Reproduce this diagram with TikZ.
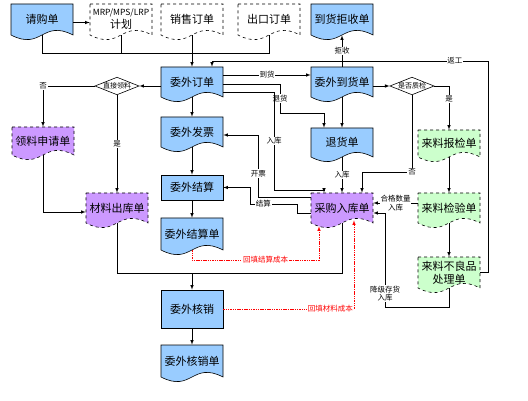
\documentclass[tikz,border=0pt]{standalone}
\usepackage{fontspec}
\setmainfont{Noto Sans CJK SC}
\usetikzlibrary{shapes.geometric,calc}
\definecolor{docblue}{RGB}{153,204,255}
\definecolor{docpurple}{RGB}{204,153,255}
\definecolor{docgreen}{RGB}{204,255,204}
\tikzset{
    box/.style={inner sep=0pt, minimum width=62pt, align=center, font=\fontsize{11}{13}\selectfont},
    bluedoc/.style={draw, fill=docblue},
    purpledoc/.style={draw, dashed, fill=docpurple},
    greendoc/.style={draw, dashed, fill=docgreen},
    plaindoc/.style={draw, dashed, fill=white},
    rectbox/.style={box, draw, fill=docblue},
    choice/.style={diamond, draw, fill=white, aspect=2.5, inner sep=0pt, font=\fontsize{7}{8}\selectfont},
    elab/.style={fill=white, inner sep=0.8pt, font=\fontsize{7.5}{8.5}\selectfont},
    redline/.style={->, red, dash pattern=on 1.5pt off 0.8pt},
}
% document shape: style, name, x, top, height, text
\newcommand{\docu}[6]{%
    \path[#1] (#3-31,-#4) -- (#3+31,-#4) -- (#3+31,-#4-#5)
        .. controls +(-31,16) and +(31,-16) .. (#3-31,-#4-#5) -- cycle;
    \node[box] (#2) at (#3,-#4-#5/2) [minimum height=#5pt] {#6};
}
\begin{document}
\begin{tikzpicture}[>=latex, x=1pt, y=1pt, line width=0.6pt]
\useasboundingbox (0,0) rectangle (528,-401);
% top row
\docu{bluedoc}{qg}{42}{4}{31}{请购单}
\docu{plaindoc}{mrp}{121}{4}{31}{{\fontsize{8.5}{10}\selectfont MRP/MPS/LRP}\\计划}
\docu{plaindoc}{xs}{192}{4}{31}{销售订单}
\docu{plaindoc}{ck}{269}{4}{31}{出口订单}
\docu{bluedoc}{jsd}{342}{4}{31}{到货拒收单}
% middle column
\docu{bluedoc}{wwdd}{192}{67}{30}{委外订单}
\docu{bluedoc}{wwfp}{192}{117}{30}{委外发票}
\node[rectbox, minimum height=25pt] (wwjs) at (192,-187.5) {委外结算};
\docu{bluedoc}{wwjsd}{192}{218}{32}{委外结算单}
\node[rectbox, minimum height=38pt] (wwhx) at (192,-309) {委外核销};
\docu{bluedoc}{wwhxd}{192}{345}{32}{委外核销单}
% left
\docu{purpledoc}{lsq}{43}{127}{28}{领料申请单}
\docu{purpledoc}{clck}{117}{193}{30}{材料出库单}
\node[choice] (zj) at (117,-86) {直接领料};
% right
\docu{bluedoc}{wwdh}{342}{67}{30}{委外到货单}
\docu{bluedoc}{thd}{342}{128}{29}{退货单}
\docu{purpledoc}{cgrk}{342}{193}{30}{采购入库单}
\node[choice] (zy) at (412,-86) {是否质检};
\docu{greendoc}{lbj}{449}{130}{27}{来料报检单}
\docu{greendoc}{ljy}{449}{193}{30}{来料检验单}
\docu{greendoc}{lbl}{449}{257}{31}{来料不良品\\处理单}

% connectors
\coordinate (m) at (192,-53);
\coordinate (rw) at (488,-61);
\coordinate (th) at (280,-113);
\coordinate (rk) at (274,-190);
\coordinate (fz) at (412,-172);
\coordinate (dj) at (385,-307);
\coordinate (hj) at (192,-273);
\coordinate (r1) at (319,-260);

\draw[->] ([yshift=-3pt]qg.east) -- ([yshift=-3pt]mrp.west);
\draw (qg.south) |- (ck.south |- m) -- (ck.south);
\draw (mrp.south) -- (mrp.south |- m);
\draw[->] (xs.south) -- (wwdd.north);
\draw[->] (lbl.east) -| (rw) -| ([xshift=20pt]wwdd.north) node[elab,pos=0.06]{返工};
\draw[->] (wwdh.north) -- (jsd.south) node[elab,midway]{拒收};

\draw[->] (wwdd.west |- zj) -- (zj.east);
\draw[->] (zj.west) -| (lsq.north) node[elab,pos=0.5]{否};
\draw[->] (zj.south) -- (clck.north) node[elab,midway]{是};
\draw[->] (lsq.south) |- ([yshift=-4pt]clck.west);

\draw[->] (wwdd.south) -- (wwfp.north);
\draw[->] (wwfp.south) -- (wwjs.north);
\draw[->] (wwjs.south) -- (wwjsd.north);
\draw[->] (wwhx.south) -- (wwhxd.north);

\draw[->] ([yshift=7pt]wwdd.east) -- ([yshift=7pt]wwdh.west) node[elab,midway]{到货};
\draw[->] ([yshift=-2pt]wwdd.east) -| (th) node[elab,pos=0.75]{退货} -| ([xshift=-18pt]thd.north);
\draw[->] ([yshift=-10pt]wwdd.east) -| (rk) node[elab,pos=0.75]{入库} -| ([xshift=-18pt]cgrk.north);
\draw[->] (wwdh.south) -- (thd.north);
\draw[->] (thd.south) -- (cgrk.north) node[elab,midway]{入库};

\draw[->] (wwdh.east |- zy) -- (zy.west);
\draw[->] (zy.east) -| (lbj.north) node[elab,pos=0.65]{是};
\draw[->] (zy.south) -- (fz) node[elab]{否} -| ([xshift=20pt]cgrk.north);
\draw[->] (lbj.south) -- (ljy.north);
\draw[->] (ljy.south) -- (lbl.north);
\draw[->] ([yshift=5pt]ljy.west) -- ([yshift=5pt]cgrk.east) node[elab,midway,align=center]{合格数量\\入库};
\draw[->] (lbl.south) |- (dj) |- ([yshift=-5pt]cgrk.east) node[elab,pos=0.07,align=center]{降级存货\\入库};

\draw[->] ([yshift=11pt]cgrk.west) -| ([xshift=35pt,yshift=-3pt]wwfp.east) node[elab,pos=0.69]{开票} -- ([yshift=-3pt]wwfp.east);
\draw[->] ([yshift=-5pt]cgrk.west) -- ++(-13,0) |- (250,-204) node[elab,pos=0.86]{结算} |- (wwjs.east);

\draw (clck.south) |- (hj);
\draw (cgrk.south) |- (hj);
\draw[->] (hj) -- (wwhx.north);

\draw[redline] (wwjsd.south) |- (r1) node[elab,pos=0.79]{回填结算成本} -- ($(r1 |- cgrk.south)+(0,-3)$);
\draw[redline] (wwhx.east) -| ([xshift=12pt,yshift=3pt]cgrk.south) node[elab,pos=0.41]{回填材料成本};
\end{tikzpicture}
\end{document}
